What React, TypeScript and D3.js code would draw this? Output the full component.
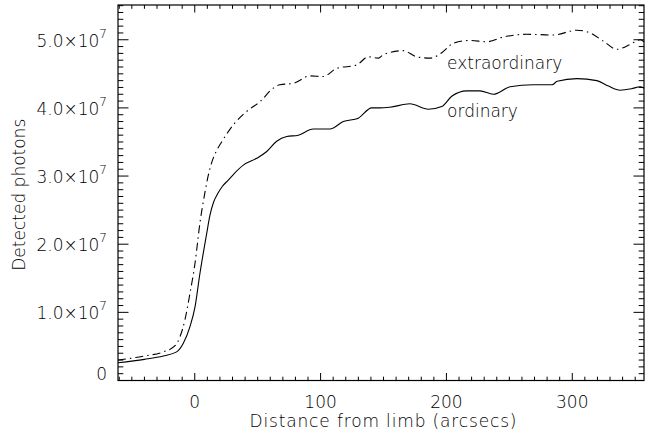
import React, { useRef, useEffect } from "react";
import { select, scaleLinear, line, curveMonotoneX, range } from "d3";

// distance from limb (arcsecs) and detected photons
const ordinaryX = [-61, -40, -25, -14.4, -9.1, -3.8, 0.2, 4.1, 9.5, 12, 15, 18.5, 22, 26.6, 31, 38.6, 49.2, 57.2, 65.1, 73.1, 82.3, 94.2, 107.5, 118, 130, 140.6, 147.2, 155, 171, 185.6, 196.3, 204.2, 216.1, 226.7, 237.3, 250.6, 269, 284, 288, 303.6, 319.5, 328.7, 338, 347, 353.9, 357];
const ordinaryY = [2.6e6, 3.1e6, 3.6e6, 4.2e6, 5.46e6, 7.9e6, 10.8e6, 15.7e6, 21.6e6, 24.2e6, 26.2e6, 27.5e6, 28.5e6, 29.4e6, 30.3e6, 31.6e6, 32.6e6, 33.6e6, 35.1e6, 35.8e6, 36.0e6, 36.9e6, 36.9e6, 38.0e6, 38.5e6, 40.0e6, 40.0e6, 40.1e6, 40.6e6, 39.8e6, 40.2e6, 41.7e6, 42.5e6, 42.5e6, 42.0e6, 43.1e6, 43.4e6, 43.4e6, 43.9e6, 44.3e6, 44.0e6, 43.2e6, 42.6e6, 42.8e6, 43.1e6, 42.9e6];

const extraX = [-61, -40, -25, -15.7, -11.8, -7.8, -3.8, 0.2, 4.1, 8.1, 10.5, 13.5, 17, 21, 25.5, 30.6, 41.3, 51.8, 62.4, 67.7, 78.3, 91.6, 102.1, 112.8, 128.7, 137.9, 145.9, 149.8, 165.7, 176.4, 187, 196.3, 205.5, 218.7, 232, 245.2, 263.8, 285, 303.6, 314.1, 324.7, 335.4, 345.9, 353.9, 357];
const extraY = [3.0e6, 3.6e6, 4.2e6, 5.1e6, 6.4e6, 8.9e6, 12.8e6, 17.2e6, 23.1e6, 27.6e6, 29.9e6, 32.0e6, 33.6e6, 34.9e6, 36.2e6, 37.5e6, 39.5e6, 40.9e6, 42.9e6, 43.4e6, 43.6e6, 44.7e6, 44.6e6, 45.8e6, 46.3e6, 47.5e6, 47.3e6, 47.8e6, 48.4e6, 47.5e6, 47.3e6, 48.1e6, 49.5e6, 49.9e6, 49.7e6, 50.4e6, 50.8e6, 50.7e6, 51.4e6, 51.0e6, 49.8e6, 48.6e6, 49.3e6, 50.0e6, 49.7e6];

const xTickLabels = [0, 100, 200, 300];
const yTickLabels = ["0", "1.0", "2.0", "3.0", "4.0", "5.0"];
const yTickValues = [0, 1e7, 2e7, 3e7, 4e7, 5e7];

const font = "'DejaVu Sans', sans-serif";
const weight = 200;

function App() {
  const svgRef = useRef(null);

  useEffect(() => {
    const svg = select(svgRef.current);
    svg.selectAll("*").remove();

    const left = 118, right = 644, top = 5, bottom = 380.5;
    const xScale = scaleLinear().domain([-61, 357]).range([left, right]);
    const yScale = scaleLinear().domain([0, 5.51e7]).range([bottom, top]);

    const g = svg.append("g");

    // frame
    g.append("rect")
      .attr("x", left)
      .attr("y", top)
      .attr("width", right - left)
      .attr("height", bottom - top)
      .attr("fill", "none")
      .attr("stroke", "#000")
      .attr("stroke-width", 1.2);

    // x ticks, every 10, major every 100
    const xt = range(-60, 358, 10);
    xt.forEach((v) => {
      const x = xScale(v);
      const len = v % 100 === 0 ? 7.5 : 3.8;
      g.append("line").attr("x1", x).attr("x2", x).attr("y1", bottom).attr("y2", bottom - len).attr("stroke", "#000");
      g.append("line").attr("x1", x).attr("x2", x).attr("y1", top).attr("y2", top + len).attr("stroke", "#000");
    });

    // y ticks, every 1e6, major every 1e7
    const yt = range(0, 56, 1).map((d) => d * 1e6);
    yt.forEach((v, i) => {
      const y = yScale(v);
      const len = i % 10 === 0 ? 10.5 : 5.3;
      g.append("line").attr("x1", left).attr("x2", left + len).attr("y1", y).attr("y2", y).attr("stroke", "#000");
      g.append("line").attr("x1", right).attr("x2", right - len).attr("y1", y).attr("y2", y).attr("stroke", "#000");
    });

    // x tick labels
    g.selectAll(".xlab")
      .data(xTickLabels)
      .join("text")
      .attr("class", "xlab")
      .attr("x", (d) => xScale(d))
      .attr("y", 408)
      .attr("text-anchor", "middle")
      .attr("font-family", font)
      .attr("font-weight", weight)
      .attr("font-size", 17)
      .text((d) => d);

    // y tick labels
    yTickValues.forEach((v, i) => {
      const y = yScale(v);
      const t = g.append("text")
        .attr("x", 107)
        .attr("text-anchor", "end")
        .attr("font-family", font)
        .attr("font-weight", weight)
        .attr("font-size", 17);
      if (i === 0) {
        t.attr("y", y - 1).text(yTickLabels[i]);
      } else {
        t.attr("y", y + 7);
        t.append("tspan").text(yTickLabels[i] + "×10");
        t.append("tspan").attr("dy", -9).attr("font-size", 12).text("7");
      }
    });

    // axis titles
    g.append("text")
      .attr("x", (left + right) / 2 + 2)
      .attr("y", 427)
      .attr("text-anchor", "middle")
      .attr("font-family", font)
      .attr("font-weight", weight)
      .attr("font-size", 17)
      .attr("textLength", 267)
      .attr("lengthAdjust", "spacing")
      .text("Distance from limb (arcsecs)");

    g.append("text")
      .attr("transform", `translate(25,${(top + bottom) / 2 + 2}) rotate(-90)`)
      .attr("text-anchor", "middle")
      .attr("font-family", font)
      .attr("font-weight", weight)
      .attr("font-size", 17)
      .text("Detected photons");

    const lineGen = line().curve(curveMonotoneX);

    g.append("path")
      .attr("d", lineGen(ordinaryX.map((x, i) => [xScale(x), yScale(ordinaryY[i])])))
      .attr("fill", "none")
      .attr("stroke", "#000")
      .attr("stroke-width", 1.1);

    g.append("path")
      .attr("d", lineGen(extraX.map((x, i) => [xScale(x), yScale(extraY[i])])))
      .attr("fill", "none")
      .attr("stroke", "#000")
      .attr("stroke-width", 1.1)
      .attr("stroke-dasharray", "8 4 1.5 4");

    // curve labels
    g.append("text")
      .attr("x", xScale(200.5))
      .attr("y", yScale(4.57e7))
      .attr("font-family", font)
      .attr("font-weight", weight)
      .attr("font-size", 17)
      .text("extraordinary");

    g.append("text")
      .attr("x", xScale(200.5))
      .attr("y", yScale(3.87e7))
      .attr("font-family", font)
      .attr("font-weight", weight)
      .attr("font-size", 17)
      .text("ordinary");
  }, []);

  return (
    <svg
      ref={svgRef}
      width={648}
      height={441}
      style={{ position: "absolute", left: 0, top: 0, background: "#fff" }}
    />
  );
}

export default App;
